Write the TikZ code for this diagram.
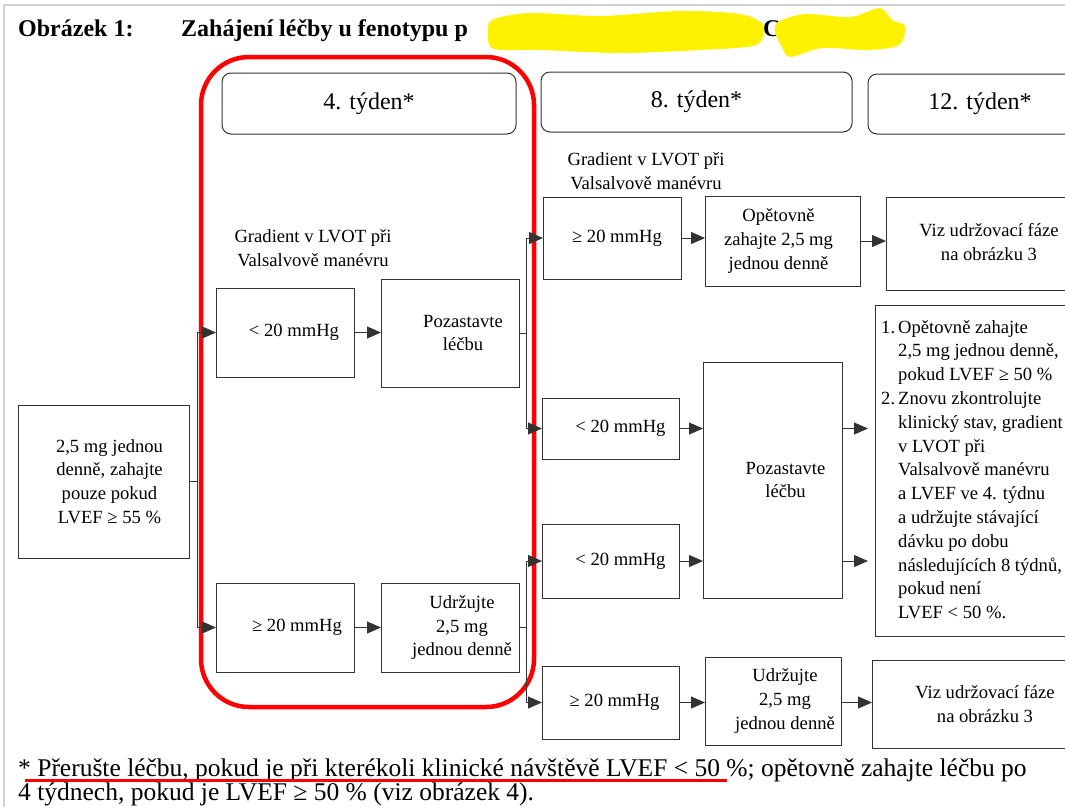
\documentclass[tikz,border=0pt]{standalone}
\usepackage{fontspec}
\setmainfont{Liberation Serif}
\usetikzlibrary{arrows.meta}
\newcommand\mybox[6][box]{\node[#1, minimum width={(#5-#3)*1pt}, minimum height={(#6-#4)*1pt}] (#2) at (#3,#4) {};}
\begin{document}
\begin{tikzpicture}[x=1pt,y=-1pt,
  box/.style={draw=black!80, line width=1pt, inner sep=0pt, outer sep=0pt, anchor=north west},
  hdr/.style={box, rounded corners=9pt},
  txt/.style={align=center, inner sep=0pt, font=\fontsize{18.6}{23.8}\selectfont},
  htxt/.style={inner sep=0pt, font=\fontsize{24}{28}\selectfont},
  con/.style={draw=black!80, line width=1pt},
  arr/.style={con, -{Triangle[length=14pt,width=12pt]}},
]
\useasboundingbox (0,0) rectangle (1065,807);
\clip (0,0) rectangle (1065,807);
% frame of screenshot
\draw[black!18, line width=1.5pt] (4,807) -- (4,5) -- (1065,5);
% title
\node[anchor=base west, inner sep=0pt, font=\fontsize{24}{28}\selectfont\bfseries] (t1) at (18,36) {Obrázek 1:};
\node[anchor=base west, inner sep=0pt, font=\fontsize{24}{28}\selectfont\bfseries] (t2) at (181,36) {Zahájení léčby u fenotypu p};
\node[anchor=base west, inner sep=0pt, font=\fontsize{24}{28}\selectfont\bfseries] (t3) at (763,36) {C};
\fill[yellow] plot[smooth cycle] coordinates {(492,20) (530,13) (600,16) (680,11) (740,14) (763,25) (756,45) (700,50) (620,53) (540,50) (494,49) (488,35)};
\fill[yellow] plot[smooth cycle] coordinates {(778,22) (805,14) (850,17) (880,8) (892,20) (905,26) (899,45) (868,50) (822,48) (790,57) (781,45) (775,32)};
% red highlight
\draw[red, line width=4.5pt, rounded corners=48pt] (201,57) rectangle (534,707);
% header boxes
\mybox[hdr]{H1}{222}{73}{516}{134}
\mybox[hdr]{H2}{541}{72}{852}{132}
\mybox[hdr]{H3}{868}{74}{1090}{134}
\node[htxt] (H1t) at (H1.center) {4. týden*};
\node[htxt] (H2t) at (H2.center) {8. týden*};
\node[htxt] (H3t) at (980,104) {12. týden*};
% gradient labels
\node[txt] (G1) at (313,248) {Gradient v LVOT při\\Valsalvově manévru};
\node[txt] (G2) at (646,171) {Gradient v LVOT při\\Valsalvově manévru};
% boxes
\mybox{L}{18}{405}{189}{558}
\mybox{A1}{216}{288}{354}{377}
\mybox{P1}{381}{279}{519}{387}
\mybox{A2}{216}{583}{354}{672}
\mybox{U1}{381}{583}{519}{672}
\mybox{B1}{543}{197}{681}{279}
\mybox{O1}{705}{196}{860}{286}
\mybox{V1}{886}{197}{1090}{290}
\mybox{C1}{542}{398}{679}{459}
\mybox{C2}{542}{524}{679}{598}
\mybox{P2}{703}{362}{842}{598}
\mybox{T}{875}{305}{1090}{636}
\mybox{B2}{542}{666}{679}{739}
\mybox{U2}{705}{657}{841}{745}
\mybox{V2}{872}{660}{1090}{748}
% texts
\node[txt] (Lt) at ([xshift=6pt]L.center) {2,5 mg jednou\\denně, zahajte\\pouze pokud\\LVEF ≥ 55 \%};
\node[txt] (A1t) at ([xshift=9pt]A1.center) {< 20 mmHg};
\node[txt] (P1t) at ([xshift=13pt]P1.center) {Pozastavte\\léčbu};
\node[txt] (A2t) at ([xshift=12pt]A2.center) {≥ 20 mmHg};
\node[txt] (U1t) at ([xshift=12pt]U1.center) {Udržujte\\2,5 mg\\jednou denně};
\node[txt] (B1t) at ([xshift=5pt]B1.center) {≥ 20 mmHg};
\node[txt] (O1t) at ([xshift=-4pt]O1.center) {Opětovně\\zahajte 2,5 mg\\jednou denně};
\node[txt] (V1t) at (989,242) {Viz udržovací fáze\\na obrázku 3};
\node[txt] (C1t) at ([xshift=10pt]C1.center) {< 20 mmHg};
\node[txt] (C2t) at ([xshift=10pt]C2.center) {< 20 mmHg};
\node[txt] (P2t) at ([xshift=13pt]P2.center) {Pozastavte\\léčbu};
\node[txt] (B2t) at ([xshift=4pt]B2.center) {≥ 20 mmHg};
\node[txt] (U2t) at ([xshift=12pt]U2.center) {Udržujte\\2,5 mg\\jednou denně};
\node[txt] (V2t) at (985,704) {Viz udržovací fáze\\na obrázku 3};
\node[txt, align=left, anchor=north west] (Tt) at (881,320) {%
\makebox[17pt][l]{1.}Opětovně zahajte\\
\hspace*{17pt}2,5 mg jednou denně,\\
\hspace*{17pt}pokud LVEF ≥ 50 \%\\
\makebox[17pt][l]{2.}Znovu zkontrolujte\\
\hspace*{17pt}klinický stav, gradient\\
\hspace*{17pt}v LVOT při\\
\hspace*{17pt}Valsalvově manévru\\
\hspace*{17pt}a LVEF ve 4. týdnu\\
\hspace*{17pt}a udržujte stávající\\
\hspace*{17pt}dávku po dobu\\
\hspace*{17pt}následujících 8 týdnů,\\
\hspace*{17pt}pokud není\\
\hspace*{17pt}LVEF < 50 \%.};
% connectors
\draw[con] (L.east) -- ++(8,0) coordinate (jL);
\draw[arr] (jL) |- (A1.west);
\draw[arr] (jL) |- (A2.west);
\draw[arr] (A1.east) -- (A1.east -| P1.west);
\draw[arr] (A2.east) -- (U1.west);
\draw[con] (P1.east) -- ++(7,0) coordinate (jP);
\draw[arr] (jP) |- (B1.west);
\draw[arr] (jP) |- (C1.west);
\draw[con] (U1.east) -- ++(7,0) coordinate (jU);
\draw[arr] (jU) |- (C2.west);
\draw[arr] (jU) |- (B2.west);
\draw[arr] (B1.east) -- (B1.east -| O1.west);
\draw[arr] (O1.east) -- (O1.east -| V1.west);
\draw[arr] (C1.east) -- (C1.east -| P2.west);
\draw[arr] (C2.east) -- (C2.east -| P2.west);
\draw[arr, shorten >=7pt] (P2.east |- C1.east) -- (T.west |- C1.east);
\draw[arr, shorten >=7pt] (P2.east |- C2.east) -- (T.west |- C2.east);
\draw[arr] (B2.east) -- (B2.east -| U2.west);
\draw[arr] (U2.east |- B2.east) -- (V2.west |- B2.east);
% footnote
\node[anchor=base west, inner sep=0pt, font=\fontsize{25.5}{29}\selectfont] (f1) at (18,776) {* Přerušte léčbu, pokud je při kterékoli klinické návštěvě LVEF < 50 \%; opětovně zahajte léčbu po};
\node[anchor=base west, inner sep=0pt, font=\fontsize{25.5}{29}\selectfont] (f2) at (18,800) {4 týdnech, pokud je LVEF ≥ 50 \% (viz obrázek 4).};
\draw[red, line width=3pt] (25,780) -- (727,780);
\end{tikzpicture}
\end{document}
